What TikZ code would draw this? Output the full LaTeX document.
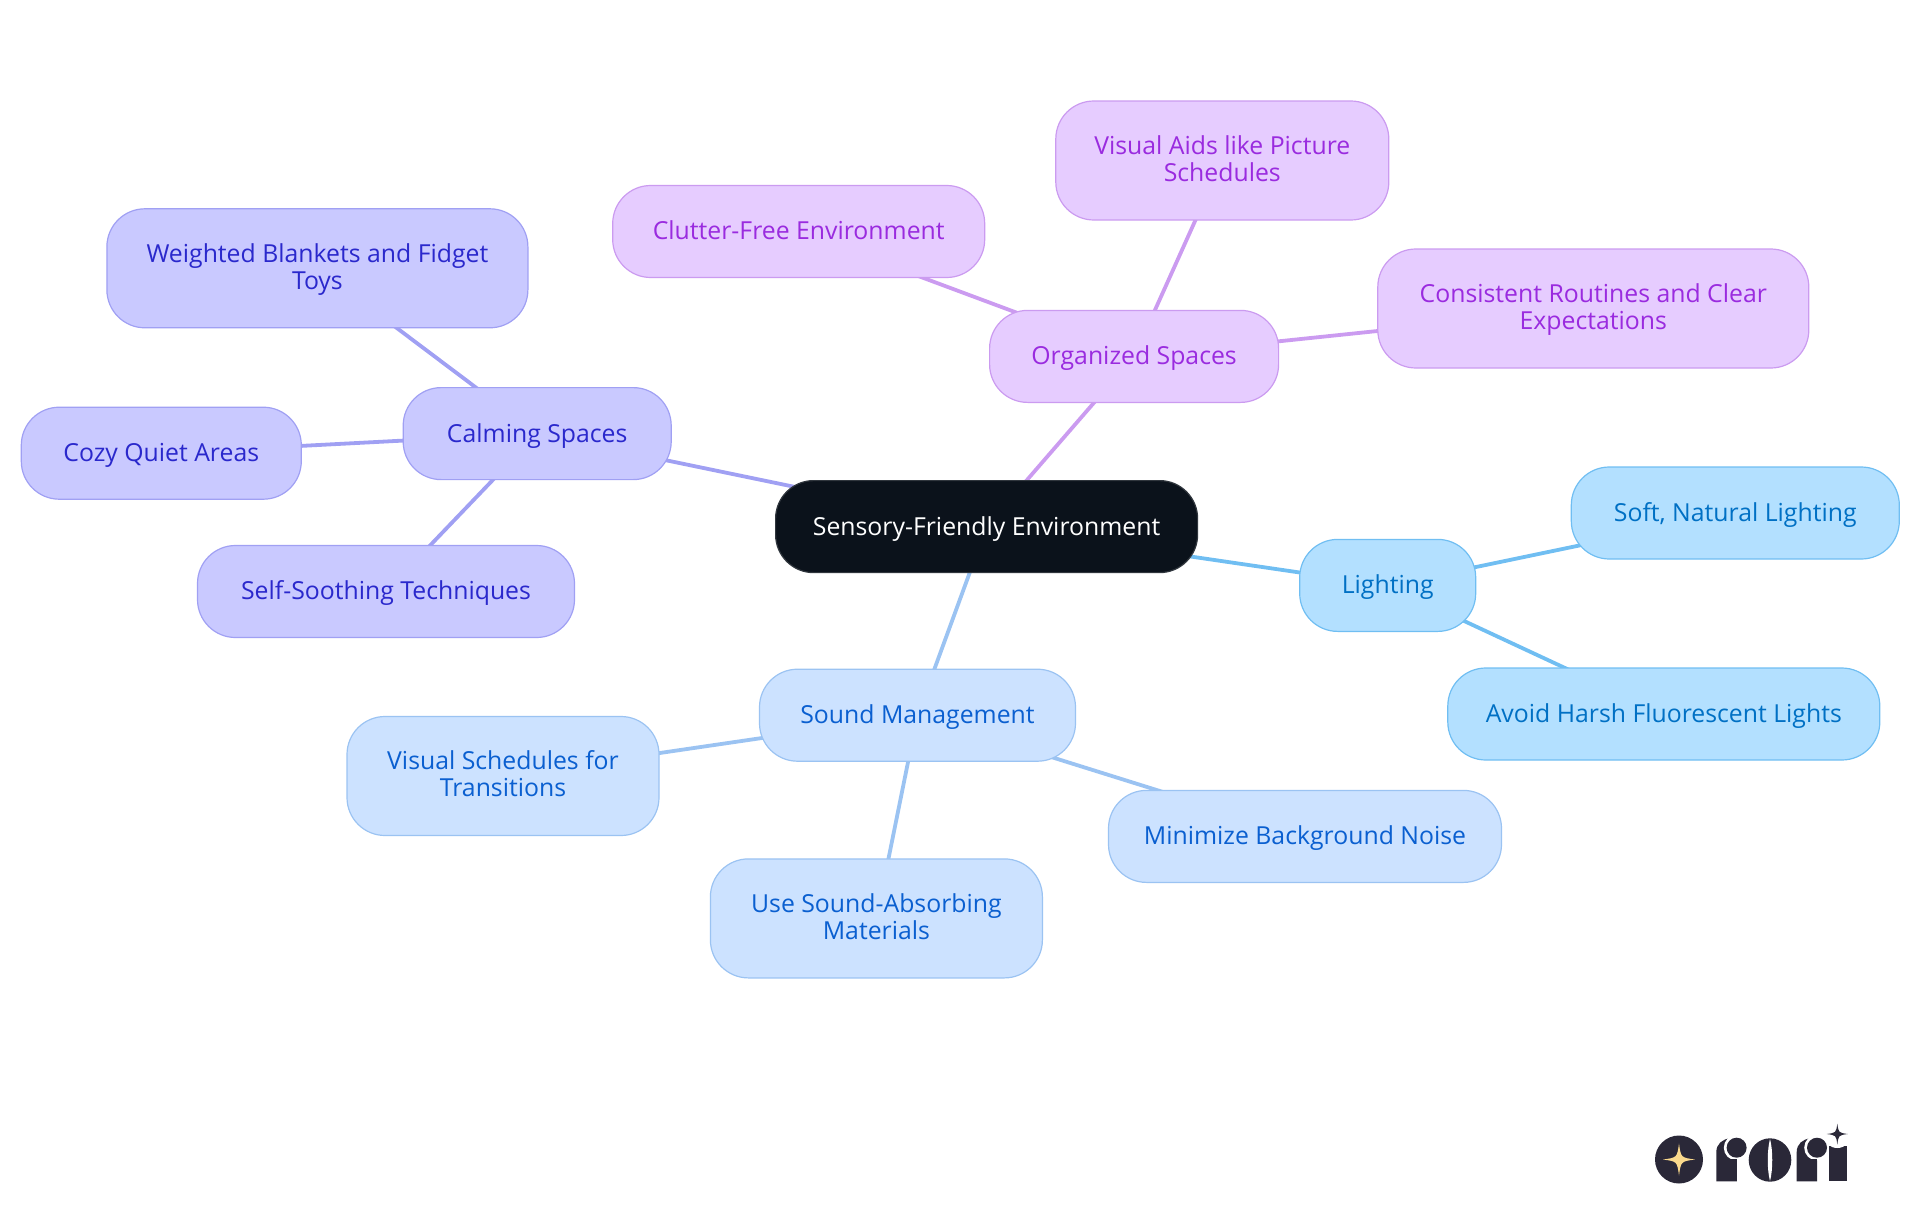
\documentclass[tikz,border=0pt]{standalone}
\usepackage{fontspec}
\setmainfont{Open Sans}
\usetikzlibrary{backgrounds}
\definecolor{rootfill}{HTML}{0B121B}
\definecolor{purplefill}{HTML}{E6CCFF}
\definecolor{purpleline}{HTML}{CB9BF0}
\definecolor{purpletext}{HTML}{9A2BDF}
\definecolor{indigofill}{HTML}{C9C9FF}
\definecolor{indigoline}{HTML}{A0A0F3}
\definecolor{indigotext}{HTML}{2A28CC}
\definecolor{soundfill}{HTML}{CCE2FF}
\definecolor{soundline}{HTML}{9BC3F2}
\definecolor{soundtext}{HTML}{0A5FD0}
\definecolor{lightfill}{HTML}{B3E0FF}
\definecolor{lightline}{HTML}{70BEF2}
\definecolor{lighttext}{HTML}{0070C4}
\definecolor{logodark}{HTML}{2A2838}
\definecolor{logostar}{HTML}{FAD98C}
\tikzset{
  mapbox/.style={rounded corners=38pt,inner sep=0pt,minimum height=92pt,align=center,line width=1.2pt,
    text height=21pt,text depth=4.2pt,font=\fontsize{24.8}{27}\selectfont},
  tallbox/.style={mapbox,minimum height=119pt,text height=48pt,text depth=6.6pt},
  rootbox/.style={mapbox,draw=rootfill!85!white,fill=rootfill,text=white},
  purplebox/.style={draw=purpleline,fill=purplefill,text=purpletext},
  indigobox/.style={draw=indigoline,fill=indigofill,text=indigotext},
  soundbox/.style={draw=soundline,fill=soundfill,text=soundtext},
  lightbox/.style={draw=lightline,fill=lightfill,text=lighttext},
  link/.style={line width=3.8pt}
}
\newcommand{\logospark}[4]{\fill[#4] (#1,#2-#3) .. controls (#1+0.12*#3,#2-0.12*#3) .. (#1+#3,#2)
  .. controls (#1+0.12*#3,#2+0.12*#3) .. (#1,#2+#3) .. controls (#1-0.12*#3,#2+0.12*#3) .. (#1-#3,#2)
  .. controls (#1-0.12*#3,#2-0.12*#3) .. cycle;}
\newcommand{\logoletter}[1]{
\fill[logodark] (#1,1181.3) -- (#1,1152) .. controls (#1,1144) and (#1+6,1139) .. (#1+14,1138.3) -- (#1+20.5,1138.3) -- (#1+20.5,1181.3) -- cycle;
\fill[white] (#1+20.3,1147.7) circle (12.8);
\fill[logodark] (#1+20.3,1147.7) circle (10);
\fill[logodark] (#1+14,1159.3) rectangle (#1+20.5,1170);}
\begin{document}
\begin{tikzpicture}[x=1pt,y=-1pt]
\useasboundingbox (0,0) rectangle (1920,1215);
\node[rootbox,minimum width=422pt] (envNode) at (986.6,526.6) {Sensory-Friendly Environment};
\node[mapbox,purplebox,minimum width=289pt] (organizedNode) at (1134.1,356.4) {Organized Spaces};
\node[tallbox,purplebox,minimum width=333pt] (aidsNode) at (1222.3,160.5) {Visual Aids like Picture\\Schedules};
\node[mapbox,purplebox,minimum width=372pt] (clutterNode) at (798.7,231.5) {Clutter-Free Environment};
\node[tallbox,purplebox,minimum width=431pt] (routinesNode) at (1593.3,308.5) {Consistent Routines and Clear\\Expectations};
\node[mapbox,indigobox,minimum width=268pt] (calmingNode) at (537.2,433.6) {Calming Spaces};
\node[tallbox,indigobox,minimum width=421pt] (blanketsNode) at (317.4,268.3) {Weighted Blankets and Fidget\\Toys};
\node[mapbox,indigobox,minimum width=280pt] (cozyNode) at (161.3,453.2) {Cozy Quiet Areas};
\node[mapbox,indigobox,minimum width=377pt] (soothingNode) at (386,591.5) {Self-Soothing Techniques};
\node[mapbox,soundbox,minimum width=316pt] (soundNode) at (917.5,715.2) {Sound Management};
\node[tallbox,soundbox,minimum width=312pt] (schedulesNode) at (503,776) {Visual Schedules for\\Transitions};
\node[tallbox,soundbox,minimum width=332pt] (absorbNode) at (876.4,918.4) {Use Sound-Absorbing\\Materials};
\node[mapbox,soundbox,minimum width=393pt] (noiseNode) at (1305,836.4) {Minimize Background Noise};
\node[mapbox,lightbox,minimum width=176pt] (lightingNode) at (1387.7,585.4) {Lighting};
\node[mapbox,lightbox,minimum width=328pt] (softNode) at (1735.3,513) {Soft, Natural Lighting};
\node[mapbox,lightbox,minimum width=432pt] (harshNode) at (1663.8,714) {Avoid Harsh Fluorescent Lights};
\begin{scope}[on background layer]
\draw[link,purpleline] (envNode.center) -- (organizedNode.center);
\draw[link,purpleline] (organizedNode.center) -- (aidsNode.center);
\draw[link,purpleline] (organizedNode.center) -- (clutterNode.center);
\draw[link,purpleline] (organizedNode.center) -- (routinesNode.center);
\draw[link,indigoline] (envNode.center) -- (calmingNode.center);
\draw[link,indigoline] (calmingNode.center) -- (blanketsNode.center);
\draw[link,indigoline] (calmingNode.center) -- (cozyNode.center);
\draw[link,indigoline] (calmingNode.center) -- (soothingNode.center);
\draw[link,soundline] (envNode.center) -- (soundNode.center);
\draw[link,soundline] (soundNode.center) -- (schedulesNode.center);
\draw[link,soundline] (soundNode.center) -- (absorbNode.center);
\draw[link,soundline] (soundNode.center) -- (noiseNode.center);
\draw[link,lightline] (envNode.center) -- (lightingNode.center);
\draw[link,lightline] (lightingNode.center) -- (softNode.center);
\draw[link,lightline] (lightingNode.center) -- (harshNode.center);
\end{scope}
% logo
\fill[logodark] (1679,1159.5) circle (24);
\logospark{1679}{1159.5}{16}{logostar}
\logoletter{1716.3}
\fill[logodark] (1770,1160) ellipse (21.3 and 21.7);
\fill[white] (1770,1139) .. controls (1767,1150) and (1767,1170) .. (1770,1181) .. controls (1773,1170) and (1773,1150) .. cycle;
\logoletter{1796.7}
\fill[logodark] (1828.7,1146) rectangle (1846.7,1181.3);
\fill[white] (1837.3,1134) circle (14);
\logospark{1837.3}{1134}{10.5}{logodark}
\end{tikzpicture}
\end{document}
